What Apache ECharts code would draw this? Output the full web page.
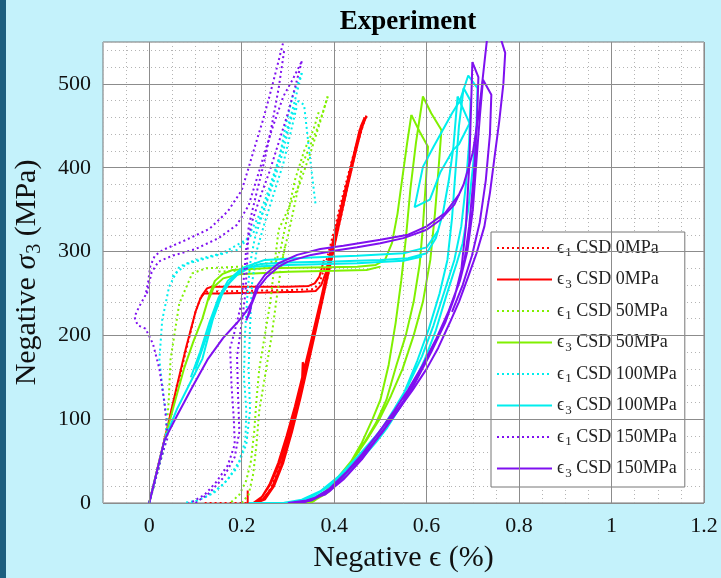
<!DOCTYPE html>
<html><head><meta charset="utf-8">
<script src="https://cdn.jsdelivr.net/npm/echarts/dist/echarts.min.js"></script>
<style>html,body{margin:0;padding:0;background:#c4f2fb}#c{width:721px;height:578px}</style>
</head><body><div id="c"></div>
<script>
// ---- tick labels ----
const xMajorTicks = [0, 0.2, 0.4, 0.6, 0.8, 1, 1.2];
const yMajorTicks = [0, 100, 200, 300, 400, 500];

// ---- legend names ----
const legendNames = ['ϵ1 CSD 0MPa','ϵ3 CSD 0MPa','ϵ1 CSD 50MPa','ϵ3 CSD 50MPa','ϵ1 CSD 100MPa','ϵ3 CSD 100MPa','ϵ1 CSD 150MPa','ϵ3 CSD 150MPa'];

// ---- CSD 0MPa ----
const eps1_0_load = [[0,0],[0.04,92],[0.1,228],[0.112,246],[0.122,252],[0.2,253],[0.3,254],[0.355,255],[0.368,262],[0.38,282],[0.4,325],[0.42,370],[0.44,412],[0.455,440],[0.465,455]];
const eps1_0_cycles = [[0.465,455],[0.45,428],[0.432,385],[0.414,340],[0.396,295],[0.378,250],[0.36,208],[0.343,170],[0.327,132],[0.312,98],[0.296,66],[0.28,40],[0.265,20],[0.25,6],[0.235,0],[0.2,0],[0.16,0],[0.12,0]];
const eps3_0_load = [[0,0],[0.02,46],[0.04,92],[0.06,140],[0.08,186],[0.1,228],[0.11,243],[0.118,250],[0.15,250],[0.25,251],[0.33,252],[0.36,253],[0.372,260],[0.382,275],[0.392,300],[0.405,330],[0.42,365],[0.435,398],[0.45,430],[0.462,452],[0.47,462]];
const eps3_0_load2 = [[0.112,246],[0.125,256],[0.135,258],[0.2,258],[0.3,258],[0.345,259],[0.358,262],[0.368,270],[0.378,290]];
const eps3_0_cycles = [[0.47,462],[0.46,448],[0.445,415],[0.428,375],[0.41,330],[0.392,285],[0.374,240],[0.356,198],[0.338,158],[0.332,168],[0.33,140],[0.315,110],[0.298,75],[0.28,45],[0.262,22],[0.245,8],[0.225,0],[0.245,4],[0.265,18],[0.285,45],[0.305,82],[0.323,122],[0.34,162],[0.358,205],[0.376,250],[0.394,295],[0.412,340],[0.43,385],[0.447,425],[0.458,450],[0.466,460],[0.455,445],[0.44,410],[0.423,370],[0.405,325],[0.387,282],[0.369,238],[0.351,196],[0.333,155],[0.315,115],[0.297,80],[0.279,48],[0.26,22],[0.242,6],[0.23,0],[0.25,4],[0.27,20],[0.29,48],[0.309,85],[0.327,125],[0.344,166],[0.362,210],[0.38,255],[0.398,300],[0.416,345],[0.434,390],[0.45,428],[0.46,450]];
const eps3_0_foot = [[0.213,15],[0.213,0],[0.26,0]];

// ---- CSD 50MPa ----
const eps1_50_load = [[0,0],[0.035,72],[0.042,120],[0.046,171],[0.065,238],[0.093,274],[0.123,280],[0.195,282],[0.25,285],[0.288,292],[0.303,326],[0.318,365],[0.332,405],[0.347,425],[0.362,445],[0.375,465],[0.386,485]];
const eps1_50_load2 = [[0.15,276],[0.22,278],[0.27,282],[0.285,305],[0.3,345],[0.315,385],[0.335,420],[0.355,445],[0.368,469]];
const eps1_50_cycles = [[0.386,485],[0.37,455],[0.35,420],[0.325,380],[0.3,350],[0.28,326],[0.272,290],[0.262,240],[0.25,200],[0.238,160],[0.232,123],[0.227,85],[0.22,50],[0.21,27],[0.195,10],[0.175,0]];
const eps1_50_cycles2 = [[0.2,0],[0.215,10],[0.225,35],[0.232,70],[0.238,110],[0.25,150],[0.265,200],[0.275,242],[0.285,280],[0.295,310]];
const eps3_50_load = [[0,0],[0.033,75],[0.055,120],[0.075,160],[0.095,192],[0.115,220],[0.13,248],[0.142,265],[0.158,273],[0.18,278],[0.25,280],[0.35,281],[0.45,282],[0.49,284],[0.51,290],[0.525,310],[0.537,345],[0.548,390],[0.558,430],[0.567,463]];
const eps3_50_load2 = [[0.128,242],[0.14,258],[0.16,268],[0.195,273],[0.3,276],[0.4,277],[0.47,278],[0.5,282]];
const eps3_50_cycles = [[0.567,463],[0.585,443],[0.603,425],[0.598,380],[0.592,330],[0.585,285],[0.572,240],[0.555,200],[0.535,165],[0.513,123],[0.49,95],[0.465,72],[0.44,52],[0.415,35],[0.39,19],[0.37,8],[0.35,0],[0.34,0],[0.36,4],[0.385,12],[0.41,25],[0.435,48],[0.46,72],[0.483,100],[0.5,123],[0.518,165],[0.533,215],[0.545,265],[0.555,315],[0.565,375],[0.577,430],[0.592,485],[0.61,465],[0.632,445],[0.626,400],[0.618,345],[0.608,290],[0.592,240],[0.572,200],[0.548,160],[0.523,128],[0.498,100],[0.47,75],[0.445,55],[0.418,37],[0.395,21],[0.375,10],[0.355,2],[0.33,0]];

// ---- CSD 100MPa ----
const eps1_100_load = [[0,0],[0.035,72],[0.038,100],[0.03,130],[0.022,171],[0.028,218],[0.043,258],[0.065,282],[0.1,290],[0.158,298],[0.21,314],[0.235,340],[0.253,365],[0.268,390],[0.282,413],[0.295,450],[0.31,485],[0.33,513]];
const eps1_100_load2 = [[0.05,270],[0.08,285],[0.13,293],[0.19,302],[0.225,322],[0.25,352],[0.27,385],[0.29,420],[0.305,455],[0.32,480],[0.335,475],[0.345,425],[0.36,355]];
const eps1_100_cycles = [[0.33,513],[0.315,480],[0.298,445],[0.28,410],[0.262,375],[0.245,345],[0.228,315],[0.218,285],[0.212,245],[0.207,200],[0.205,150],[0.21,110],[0.208,75],[0.195,50],[0.17,28],[0.14,12],[0.105,3],[0.075,0]];
const eps1_100_cycles2 = [[0.09,0],[0.125,8],[0.16,22],[0.19,42],[0.21,70],[0.218,110],[0.215,160],[0.218,210],[0.222,260],[0.232,300],[0.25,335],[0.27,370],[0.29,405],[0.305,440],[0.32,475]];
const eps3_100_load = [[0,0],[0.033,75],[0.06,112],[0.09,145],[0.115,172],[0.137,218],[0.158,250],[0.18,268],[0.2,278],[0.24,285],[0.3,287],[0.4,288],[0.5,290],[0.56,292],[0.6,298],[0.62,316],[0.635,345],[0.648,385],[0.658,425],[0.667,485]];
const eps3_100_load2 = [[0.09,150],[0.11,180],[0.13,215],[0.15,245],[0.17,265],[0.2,280],[0.25,290],[0.35,293],[0.45,295],[0.55,298],[0.6,305],[0.625,325]];
const eps3_100_load3 = [[0.1,160],[0.125,200],[0.145,235],[0.165,258],[0.19,272],[0.22,282],[0.3,284],[0.45,286],[0.55,289],[0.59,294]];
const eps3_100_cycles = [[0.667,485],[0.693,453],[0.67,428],[0.657,421],[0.63,395],[0.607,362],[0.574,353],[0.592,401],[0.615,425],[0.635,445],[0.655,465],[0.672,480],[0.69,510],[0.71,495],[0.708,450],[0.7,400],[0.69,350],[0.678,310],[0.665,286],[0.643,248],[0.62,206],[0.595,170],[0.57,140],[0.54,112],[0.515,90],[0.49,72],[0.455,50],[0.42,30],[0.385,15],[0.35,5],[0.32,1],[0.29,0],[0.25,0],[0.215,0]];
const eps3_100_cycles2 = [[0.29,0],[0.33,4],[0.37,14],[0.41,32],[0.45,55],[0.49,80],[0.52,100],[0.55,130],[0.58,170],[0.605,208],[0.628,250],[0.645,290],[0.655,340],[0.663,400],[0.67,450],[0.68,495],[0.695,480],[0.692,430],[0.685,380],[0.675,330],[0.66,290],[0.64,255],[0.615,212],[0.59,175],[0.56,140],[0.53,112],[0.505,90],[0.47,65],[0.43,40],[0.39,20],[0.35,7],[0.31,1],[0.3,0]];

// ---- CSD 150MPa ----
const eps1_150_load = [[0,0],[0.03,62],[0.04,78],[0.033,120],[0.022,160],[0.008,190],[-0.008,208],[-0.025,212],[-0.032,222],[-0.022,234],[-0.008,248],[-0.002,265],[0.002,282],[0.012,295],[0.03,302],[0.08,314],[0.13,327],[0.17,348],[0.2,373],[0.215,400],[0.23,428],[0.245,455],[0.26,485],[0.275,517],[0.29,550]];
const eps1_150_load2 = [[-0.005,250],[0.005,275],[0.02,288],[0.05,295],[0.1,303],[0.15,316],[0.19,332],[0.215,355],[0.24,400],[0.265,445],[0.29,485],[0.31,505],[0.33,527]];
const eps1_150_cycles = [[0.33,527],[0.315,495],[0.3,465],[0.28,430],[0.26,395],[0.24,365],[0.222,335],[0.21,305],[0.205,270],[0.198,235],[0.185,205],[0.175,185],[0.178,140],[0.183,100],[0.185,70],[0.17,45],[0.145,25],[0.12,10],[0.095,2],[0.085,0]];
const eps1_150_cycles2 = [[0.1,0],[0.13,12],[0.16,30],[0.185,55],[0.195,85],[0.192,130],[0.19,175],[0.2,215],[0.208,250],[0.212,290],[0.215,330],[0.23,365],[0.25,410],[0.265,450],[0.28,495],[0.292,540]];
const eps3_150_load = [[0,0],[0.033,75],[0.06,104],[0.09,135],[0.126,171],[0.16,197],[0.19,215],[0.205,225],[0.215,233],[0.222,240],[0.218,228],[0.21,218],[0.222,238],[0.235,256],[0.255,270],[0.28,282],[0.3,288],[0.35,296],[0.4,301],[0.45,305],[0.5,310],[0.55,316],[0.6,326],[0.63,338],[0.66,356],[0.68,380],[0.7,418],[0.713,465],[0.723,515],[0.732,560]];
const eps3_150_load2 = [[0.222,240],[0.232,258],[0.25,272],[0.28,286],[0.32,296],[0.37,303],[0.42,307],[0.5,314],[0.56,320],[0.6,330],[0.64,346],[0.67,368]];
const eps3_150_cycles = [[0.757,560],[0.77,537],[0.766,500],[0.757,455],[0.747,413],[0.737,370],[0.725,330],[0.708,298],[0.69,270],[0.67,240],[0.65,215],[0.625,185],[0.6,160],[0.57,135],[0.54,112],[0.505,85],[0.47,62],[0.43,38],[0.395,18],[0.36,6],[0.33,0],[0.3,0]];
const eps3_150_cycles2 = [[0.3,0],[0.34,3],[0.38,10],[0.42,28],[0.46,52],[0.5,82],[0.54,112],[0.57,138],[0.61,180],[0.64,215],[0.66,245],[0.675,278],[0.685,330],[0.692,400],[0.696,470],[0.699,526],[0.712,508],[0.709,455],[0.702,390],[0.692,330],[0.682,290],[0.665,255],[0.645,225],[0.62,195],[0.59,163],[0.56,135],[0.53,110],[0.495,83],[0.46,58],[0.425,36],[0.39,17],[0.355,5],[0.32,0],[0.35,3],[0.39,14],[0.43,34],[0.47,60],[0.51,90],[0.55,122],[0.585,155],[0.62,195],[0.65,232],[0.672,265],[0.688,300],[0.7,350],[0.708,410],[0.715,460],[0.722,505],[0.74,487],[0.737,440],[0.728,385],[0.715,335],[0.698,295],[0.678,260],[0.655,228]];

const groups = [
  {name: legendNames[0], color: '#ff0000', dotted: true,  segs: [eps1_0_load, eps1_0_cycles]},
  {name: legendNames[1], color: '#ff0000', dotted: false, segs: [eps3_0_load, eps3_0_load2, eps3_0_cycles, eps3_0_foot]},
  {name: legendNames[2], color: '#80f000', dotted: true,  segs: [eps1_50_load, eps1_50_load2, eps1_50_cycles, eps1_50_cycles2]},
  {name: legendNames[3], color: '#80f000', dotted: false, segs: [eps3_50_load, eps3_50_load2, eps3_50_cycles]},
  {name: legendNames[4], color: '#00eeee', dotted: true,  segs: [eps1_100_load, eps1_100_load2, eps1_100_cycles, eps1_100_cycles2]},
  {name: legendNames[5], color: '#00eeee', dotted: false, segs: [eps3_100_load, eps3_100_load2, eps3_100_load3, eps3_100_cycles, eps3_100_cycles2]},
  {name: legendNames[6], color: '#7f10f0', dotted: true,  segs: [eps1_150_load, eps1_150_load2, eps1_150_cycles, eps1_150_cycles2]},
  {name: legendNames[7], color: '#7f10f0', dotted: false, segs: [eps3_150_load, eps3_150_load2, eps3_150_cycles, eps3_150_cycles2]}
];

const FONT = 'Liberation Serif';
const series = [{
  type: 'line', data: [], silent: true, z: 1,
  markLine: {
    silent: true, symbol: 'none', animation: false, label: {show: false},
    lineStyle: {color: '#8c8c8c', type: 'solid', width: 1},
    data: xMajorTicks.map(v => ({xAxis: v})).concat(yMajorTicks.map(v => ({yAxis: v})))
  }
}];
groups.forEach((g, gi) => g.segs.forEach(seg => series.push({
  type: 'line', name: g.name, data: seg, showSymbol: false, symbol: 'none',
  silent: true, animation: false, clip: true, z: 2 + gi * 0.01,
  lineStyle: {color: g.color, width: 2, type: g.dotted ? [2, 3] : 'solid', cap: 'butt'},
  itemStyle: {color: g.color}
})));

const isMult = (v, step) => Math.abs(v / step - Math.round(v / step)) < 1e-6;

const chart = echarts.init(document.getElementById('c'), null, {renderer: 'canvas'});
chart.setOption({
  backgroundColor: '#c4f2fb',
  animation: false,
  title: {
    text: 'Experiment', left: 403, top: 4, textAlign: 'center',
    textStyle: {fontFamily: FONT, fontWeight: 'bold', fontSize: 27, color: '#000'}
  },
  graphic: [{type: 'rect', left: 0, top: 0, shape: {width: 6, height: 578}, style: {fill: '#1b5f7f'}}],
  grid: {left: 103, right: 17, top: 42, bottom: 75, show: true, backgroundColor: '#ffffff', borderColor: '#777', borderWidth: 1},
  legend: {
    data: legendNames, orient: 'vertical', left: 491, top: 232,
    padding: [7, 8, 7, 5], itemGap: 11, itemWidth: 55, itemHeight: 12,
    backgroundColor: '#ffffff', borderColor: '#777', borderWidth: 1, borderRadius: 0,
    selectedMode: false,
    itemStyle: {opacity: 0, borderWidth: 0},
    formatter: n => n.replace(/^ϵ(\d) (.*)$/, '{e|ϵ}{s|$1}{t| $2}'),
    textStyle: {
      fontFamily: FONT, fontSize: 18, color: '#222',
      rich: {
        e: {fontFamily: FONT, fontSize: 18, color: '#222'},
        s: {fontFamily: FONT, fontSize: 13, color: '#222', padding: [10, 0, 0, 1]},
        t: {fontFamily: FONT, fontSize: 18, color: '#222'}
      }
    }
  },
  xAxis: {
    type: 'value', min: -0.1, max: 1.2, interval: 0.05,
    axisLine: {show: false}, axisTick: {show: false},
    splitLine: {show: true, lineStyle: {color: '#b4b4b4', type: [1, 3], width: 1}},
    axisLabel: {
      margin: 12, fontFamily: FONT, fontSize: 22, color: '#111',
      formatter: v => (isMult(v, 0.2) && v > -0.01) ? String(Math.round(v * 10) / 10) : ''
    },
    name: 'Negative ϵ (%)', nameLocation: 'middle', nameGap: 40,
    nameTextStyle: {fontFamily: FONT, fontSize: 30, color: '#111'}
  },
  yAxis: {
    type: 'value', min: 0, max: 550, interval: 20,
    axisLine: {show: false}, axisTick: {show: false},
    splitLine: {show: true, lineStyle: {color: '#b4b4b4', type: [1, 3], width: 1}},
    axisLabel: {
      margin: 12, fontFamily: FONT, fontSize: 22, color: '#111',
      formatter: v => isMult(v, 100) ? String(v) : ''
    },
    name: '{t|Negative }{g|σ}{s|3}{t| (MPa)}', nameLocation: 'middle', nameGap: 58, nameRotate: 90,
    nameTextStyle: {
      fontFamily: FONT, fontSize: 30, color: '#111',
      rich: {
        t: {fontFamily: FONT, fontSize: 30, color: '#111'},
        g: {fontFamily: FONT, fontSize: 30, color: '#111', fontStyle: 'italic'},
        s: {fontFamily: FONT, fontSize: 20, color: '#111', padding: [15, 0, 0, 1]}
      }
    }
  },
  series: series
});
</script>
</body></html>
